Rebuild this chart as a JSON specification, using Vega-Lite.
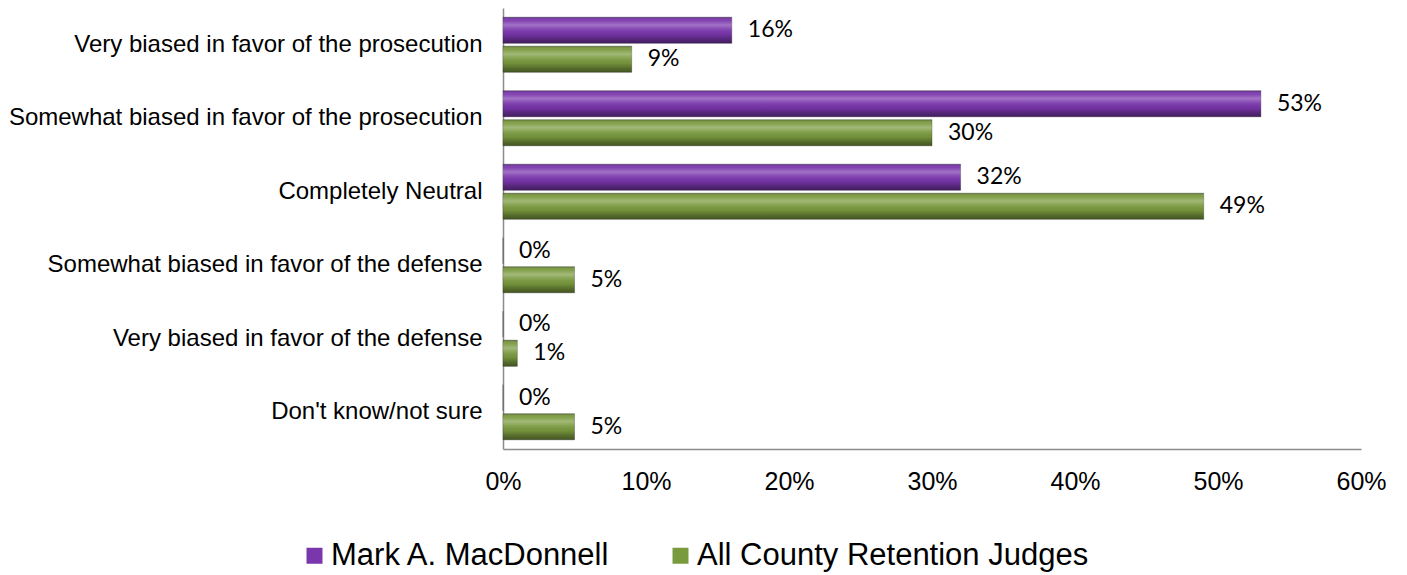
{
  "$schema": "https://vega.github.io/schema/vega-lite/v6.json",
  "width": 858,
  "height": 441,
  "autosize": {"type": "none"},
  "padding": {"left": 503, "top": 8, "right": 46, "bottom": 126},
  "background": "white",
  "config": {"view": {"stroke": null}, "font": "Liberation Sans"},
  "data": {
    "values": [
      {"category": "Very biased in favor of the prosecution", "series": "Mark A. MacDonnell", "value": 0.16},
      {"category": "Very biased in favor of the prosecution", "series": "All County Retention Judges", "value": 0.09},
      {"category": "Somewhat biased in favor of the prosecution", "series": "Mark A. MacDonnell", "value": 0.53},
      {"category": "Somewhat biased in favor of the prosecution", "series": "All County Retention Judges", "value": 0.30},
      {"category": "Completely Neutral", "series": "Mark A. MacDonnell", "value": 0.32},
      {"category": "Completely Neutral", "series": "All County Retention Judges", "value": 0.49},
      {"category": "Somewhat biased in favor of the defense", "series": "Mark A. MacDonnell", "value": 0.0},
      {"category": "Somewhat biased in favor of the defense", "series": "All County Retention Judges", "value": 0.05},
      {"category": "Very biased in favor of the defense", "series": "Mark A. MacDonnell", "value": 0.0},
      {"category": "Very biased in favor of the defense", "series": "All County Retention Judges", "value": 0.01},
      {"category": "Don't know/not sure", "series": "Mark A. MacDonnell", "value": 0.0},
      {"category": "Don't know/not sure", "series": "All County Retention Judges", "value": 0.05}
    ]
  },
  "encoding": {
    "y": {
      "field": "category",
      "type": "nominal",
      "sort": ["Very biased in favor of the prosecution", "Somewhat biased in favor of the prosecution", "Completely Neutral", "Somewhat biased in favor of the defense", "Very biased in favor of the defense", "Don't know/not sure"],
      "scale": {"paddingInner": 0.25, "paddingOuter": 0.125},
      "axis": {"title": null, "ticks": false, "domainColor": "#8c8c8c", "domainWidth": 1.5, "labelFontSize": 24, "labelColor": "#000000", "labelPadding": 21, "labelLimit": 700, "labelFont": "Liberation Sans"}
    },
    "yOffset": {
      "field": "series",
      "type": "nominal",
      "sort": ["Mark A. MacDonnell", "All County Retention Judges"],
      "scale": {"paddingInner": 0.1, "paddingOuter": 0}
    },
    "x": {
      "field": "value",
      "type": "quantitative",
      "scale": {"domain": [0, 0.6], "nice": false},
      "axis": {"title": null, "format": ".0%", "values": [0, 0.1, 0.2, 0.3, 0.4, 0.5, 0.6], "grid": false, "ticks": false, "labelFlush": false, "labelOverlap": false, "domainColor": "#8c8c8c", "domainWidth": 1.5, "labelFontSize": 25, "labelColor": "#000000", "labelPadding": 20, "labelFont": "Liberation Sans"}
    }
  },
  "layer": [
    {
      "mark": {"type": "bar", "stroke": "#3a3a3a", "strokeWidth": 0.6, "strokeOpacity": 0.6},
      "encoding": {
        "color": {
          "field": "series",
          "type": "nominal",
          "scale": {"domain": ["Mark A. MacDonnell", "All County Retention Judges"], "range": ["#7a36ad", "#7a9a3e"]},
          "legend": {
            "orient": "none",
            "legendX": -204,
            "legendY": 532,
            "direction": "horizontal",
            "title": null,
            "labelFontSize": 31,
            "labelFont": "Liberation Sans",
            "labelColor": "#000000",
            "symbolType": "square",
            "symbolSize": 256,
            "symbolStrokeWidth": 0,
            "symbolOpacity": 1,
            "labelOffset": 1,
            "columnPadding": 54,
            "labelLimit": 1000
          }
        }
      }
    },
    {
      "mark": {
        "type": "bar",
        "fill": {
          "gradient": "linear",
          "x1": 0, "y1": 0, "x2": 0, "y2": 1,
          "stops": [
            {"offset": 0, "color": "rgba(0,0,0,0.25)"},
            {"offset": 0.12, "color": "rgba(255,255,255,0.05)"},
            {"offset": 0.3, "color": "rgba(255,255,255,0.3)"},
            {"offset": 0.45, "color": "rgba(255,255,255,0.1)"},
            {"offset": 0.65, "color": "rgba(0,0,0,0.05)"},
            {"offset": 0.85, "color": "rgba(0,0,0,0.3)"},
            {"offset": 1, "color": "rgba(0,0,0,0.45)"}
          ]
        }
      }
    },
    {
      "mark": {"type": "text", "align": "left", "baseline": "middle", "dx": 16, "fontSize": 23, "font": "Lato", "color": "#000000"},
      "encoding": {
        "text": {"field": "value", "type": "quantitative", "format": ".0%"}
      }
    }
  ]
}
